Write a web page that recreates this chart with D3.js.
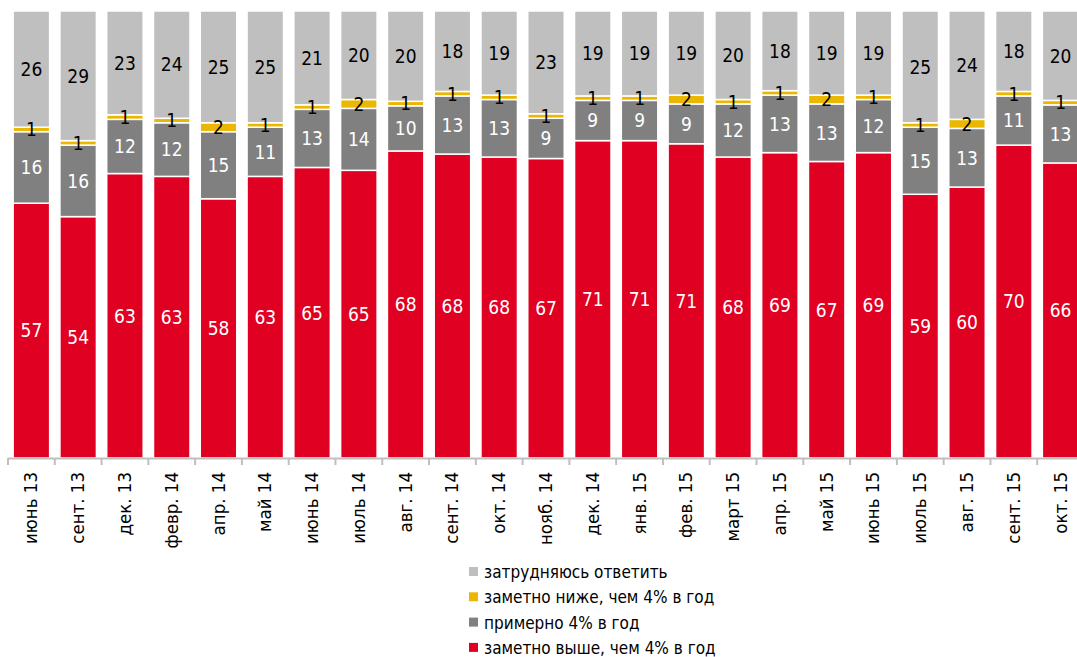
<!DOCTYPE html>
<html>
<head>
<meta charset="utf-8">
<script src="https://cdnjs.cloudflare.com/ajax/libs/d3/7.8.5/d3.min.js"></script>
<style>
    body { margin: 0; background: #fff; }
    svg text { font-family: "Liberation Sans Narrow", "DejaVu Sans Condensed", "Roboto", sans-serif; }
</style>
</head>
<body>
<div id="graph"></div>
<script>
/*
    Stacked bars, inflation expectations survey
*/

var months = ["июнь 13", "сент. 13", "дек. 13", "февр. 14", "апр. 14", "май 14",
    "июнь 14", "июль 14", "авг. 14", "сент. 14", "окт. 14", "нояб. 14", "дек. 14",
    "янв. 15", "фев. 15", "март 15", "апр. 15", "май 15", "июнь 15", "июль 15",
    "авг. 15", "сент. 15", "окт. 15"]

var higher  = [57, 54, 63, 63, 58, 63, 65, 65, 68, 68, 68, 67, 71, 71, 71, 68, 69, 67, 69, 59, 60, 70, 66]
var about   = [16, 16, 12, 12, 15, 11, 13, 14, 10, 13, 13, 9, 9, 9, 9, 12, 13, 13, 12, 15, 13, 11, 13]
var lower   = [1, 1, 1, 1, 2, 1, 1, 2, 1, 1, 1, 1, 1, 1, 2, 1, 1, 2, 1, 1, 2, 1, 1]
var unsure  = [26, 29, 23, 24, 25, 25, 21, 20, 20, 18, 19, 23, 19, 19, 19, 20, 18, 19, 19, 25, 24, 18, 20]

var seriesKeys = ["higher", "about", "lower", "unsure"]
var seriesNames = {
    higher: "заметно выше, чем 4% в год",
    about: "примерно 4% в год",
    lower: "заметно ниже, чем 4% в год",
    unsure: "затрудняюсь ответить"
}
var colors = { higher: "#e00022", about: "#808080", lower: "#ebb700", unsure: "#bfbfbf" }
var labelColors = { higher: "#fff", about: "#fff", lower: "#000", unsure: "#000" }

var data = months.map(function (m, i) {
    return { month: m, higher: higher[i], about: about[i], lower: lower[i], unsure: unsure[i] }
})

var width = 1077, height = 657

var svg = d3.select("#graph").append("svg")
    .attr("width", width)
    .attr("height", height)

var x = d3.scaleBand()
    .domain(months)
    .range([8, 1084])
    .paddingInner(0.22)
    .paddingOuter(0.11)

// all bars reach the top, so shares are normalised
var y = d3.scaleLinear()
    .domain([0, 1])
    .range([458, 11])

var stack = d3.stack()
    .keys(seriesKeys)
    .offset(d3.stackOffsetExpand)

var layers = stack(data)

var groups = svg.selectAll("g.layer")
    .data(layers)
    .enter().append("g")
    .attr("class", "layer")
    .attr("fill", function (d) { return colors[d.key] })

groups.selectAll("rect")
    .data(function (d) { return d })
    .enter().append("rect")
    .attr("x", function (d) { return x(d.data.month) })
    .attr("y", function (d) { return y(d[1]) })
    .attr("width", x.bandwidth())
    .attr("height", function (d) { return y(d[0]) - y(d[1]) })
    .attr("stroke", "#fff")
    .attr("stroke-width", 1.5)

// value labels
layers.forEach(function (layer) {
    svg.append("g")
        .selectAll("text")
        .data(layer)
        .enter().append("text")
        .attr("x", function (d) { return x(d.data.month) + x.bandwidth() / 2 })
        .attr("y", function (d) { return (y(d[0]) + y(d[1])) / 2 })
        .attr("dy", "0.36em")
        .attr("text-anchor", "middle")
        .attr("font-size", "19px")
        .attr("fill", labelColors[layer.key])
        .text(function (d) { return d.data[layer.key] })
})

// x axis with ticks between the bars
var axis = svg.append("g")
    .attr("class", "x axis")

axis.append("line")
    .attr("x1", 8).attr("x2", 1084)
    .attr("y1", 458.5).attr("y2", 458.5)
    .attr("stroke", "#bfbfbf")
    .attr("stroke-width", 2)

var step = x.step()
axis.selectAll("line.tick")
    .data(months)
    .enter().append("line")
    .attr("class", "tick")
    .attr("x1", function (d) { return x(d) - x.paddingInner() * step / 2 })
    .attr("x2", function (d) { return x(d) - x.paddingInner() * step / 2 })
    .attr("y1", 458).attr("y2", 465)
    .attr("stroke", "#bfbfbf")
    .attr("stroke-width", 2)

axis.selectAll("text")
    .data(months)
    .enter().append("text")
    .attr("transform", function (d) {
        return "translate(" + (x(d) + x.bandwidth() / 2 + 6) + ",472) rotate(-90)"
    })
    .attr("text-anchor", "end")
    .attr("font-size", "18.5px")
    .attr("fill", "#000")
    .text(function (d) { return d })

// legend
var legendKeys = ["unsure", "lower", "about", "higher"]
var legend = svg.append("g")
    .attr("transform", "translate(469,572)")

var items = legend.selectAll("g")
    .data(legendKeys)
    .enter().append("g")
    .attr("transform", function (d, i) { return "translate(0," + i * 25.3 + ")" })

items.append("rect")
    .attr("x", 0).attr("y", -5)
    .attr("width", 9).attr("height", 9)
    .attr("fill", function (d) { return colors[d] })

items.append("text")
    .attr("x", 15)
    .attr("dy", "0.35em")
    .attr("font-size", "17px")
    .attr("fill", "#000")
    .text(function (d) { return seriesNames[d] })
</script>
</body>
</html>
